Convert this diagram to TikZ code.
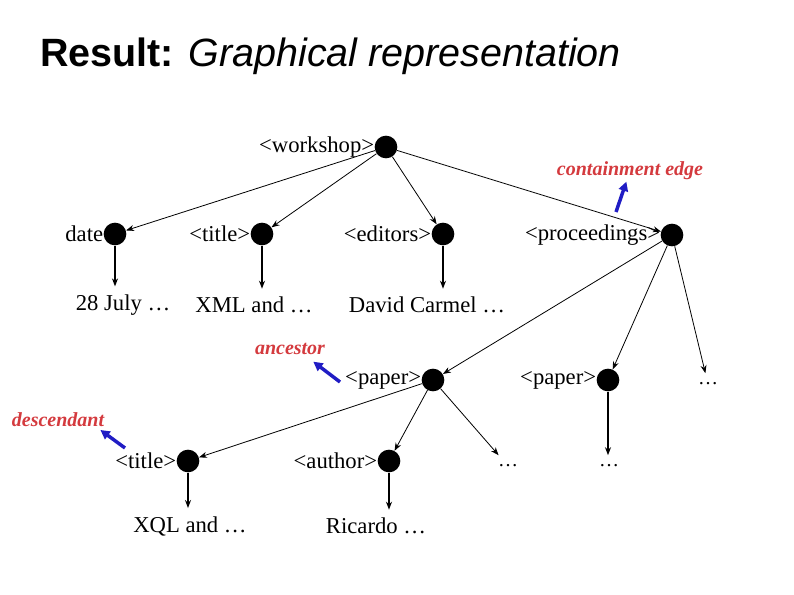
\documentclass[tikz,border=0pt]{standalone}
\usepackage{fontspec}
\setmainfont{Liberation Serif}
\newfontfamily\headfont{Liberation Sans}
\usepackage{xcolor}
\usetikzlibrary{arrows.meta,positioning}
\definecolor{notered}{RGB}{212,58,62}
\definecolor{noteblue}{RGB}{32,28,196}
\tikzset{
  elem/.style={
    circle,
    fill=black,
    minimum size=17pt,
    inner sep=0pt
  },
  tag/.style={
    inner sep=0pt,
    font=\fontsize{17}{20}\selectfont
  },
  leaf/.style={
    inner sep=6pt,
    font=\fontsize{17}{20}\selectfont
  },
  more/.style={
    inner sep=7pt,
    font=\fontsize{15}{18}\selectfont
  },
  note/.style={
    inner sep=1pt,
    text=notered,
    font=\fontsize{15}{18}\selectfont\bfseries\itshape
  },
  edge/.style={-{Stealth[length=6pt,width=4.5pt]}, line width=0.6pt},
  valedge/.style={-{Stealth[length=6pt,width=4.5pt]}, line width=1.1pt},
  pointer/.style={-{Triangle[length=7pt,width=7pt]}, line width=2.6pt, noteblue}
}

\begin{document}
\begin{tikzpicture}[x=0.75pt,y=-0.75pt]
\useasboundingbox (0,0) rectangle (794,595);
\node[anchor=base west, inner sep=0pt, font=\headfont\fontsize{29.6}{36}\selectfont] (head) at (40,67)
  {\textbf{Result:} \textit{Graphical representation}};

% elements
\node[elem] (ws) at (386,147) {};
\node[elem] (date) at (115,234) {};
\node[elem] (title) at (262,234) {};
\node[elem] (eds) at (443,234) {};
\node[elem] (proc) at (672,235) {};
\node[elem] (pap1) at (433,380) {};
\node[elem] (pap2) at (608,380) {};
\node[elem] (title2) at (188,461) {};
\node[elem] (auth) at (389,461) {};

\node[tag, left=0pt of ws] {\textless workshop\textgreater};
\node[tag, left=0pt of date] {date};
\node[tag, left=0pt of title] {\textless title\textgreater};
\node[tag, left=0pt of eds] {\textless editors\textgreater};
\node[tag, left=0pt of proc] {\textless proceedings\textgreater};
\node[tag, left=0pt of pap1] (pap1tag) {\textless paper\textgreater};
\node[tag, left=0pt of pap2] {\textless paper\textgreater};
\node[tag, left=0pt of title2] (title2tag) {\textless title\textgreater};
\node[tag, left=0pt of auth] {\textless author\textgreater};

% values
\node[leaf] (v1) at (123,305) {28 July …};
\node[leaf] (v2) at (254,305) {XML and …};
\node[leaf] (v3) at (427,305) {David Carmel …};
\node[leaf] (v4) at (190,526) {XQL and …};
\node[leaf] (v5) at (376,526) {Ricardo …};
\node[more] (m1) at (708,384) {…};
\node[more] (m2) at (508,466) {…};
\node[more] (m3) at (609,466) {…};

\draw[edge] (ws) -- (date);
\draw[edge] (ws) -- (title);
\draw[edge] (ws) -- (eds);
\draw[edge] (ws) -- (proc);
\draw[edge] (proc) -- (pap1);
\draw[edge] (proc) -- (pap2);
\draw[edge] (proc) -- (m1);
\draw[edge] (pap1) -- (title2);
\draw[edge] (pap1) -- (auth);
\draw[edge] (pap1) -- (m2);

\draw[valedge] (date) -- (date |- v1.north);
\draw[valedge] (title) -- (title |- v2.north);
\draw[valedge] (eds) -- (eds |- v3.north);
\draw[valedge] (title2) -- (title2 |- v4.north);
\draw[valedge] (auth) -- (auth |- v5.north);
\draw[valedge] (pap2) -- (pap2 |- m3.north);

% annotations
\node[note] (contain) at (630,171) {containment edge};
\node[note] (anc) at (290,349) {ancestor};
\node[note] (desc) at (58,420) {descendant};
\coordinate (c0) at (616,212);
\coordinate (a0) at (340,382);
\coordinate (d0) at (125,448);
\draw[pointer] (c0) -- (contain);
\draw[pointer] (a0) -- ([xshift=-10pt,yshift=-4pt]anc.south east);
\draw[pointer] (d0) -- ([xshift=-4pt,yshift=-1pt]desc.south east);
\end{tikzpicture}
\end{document}
